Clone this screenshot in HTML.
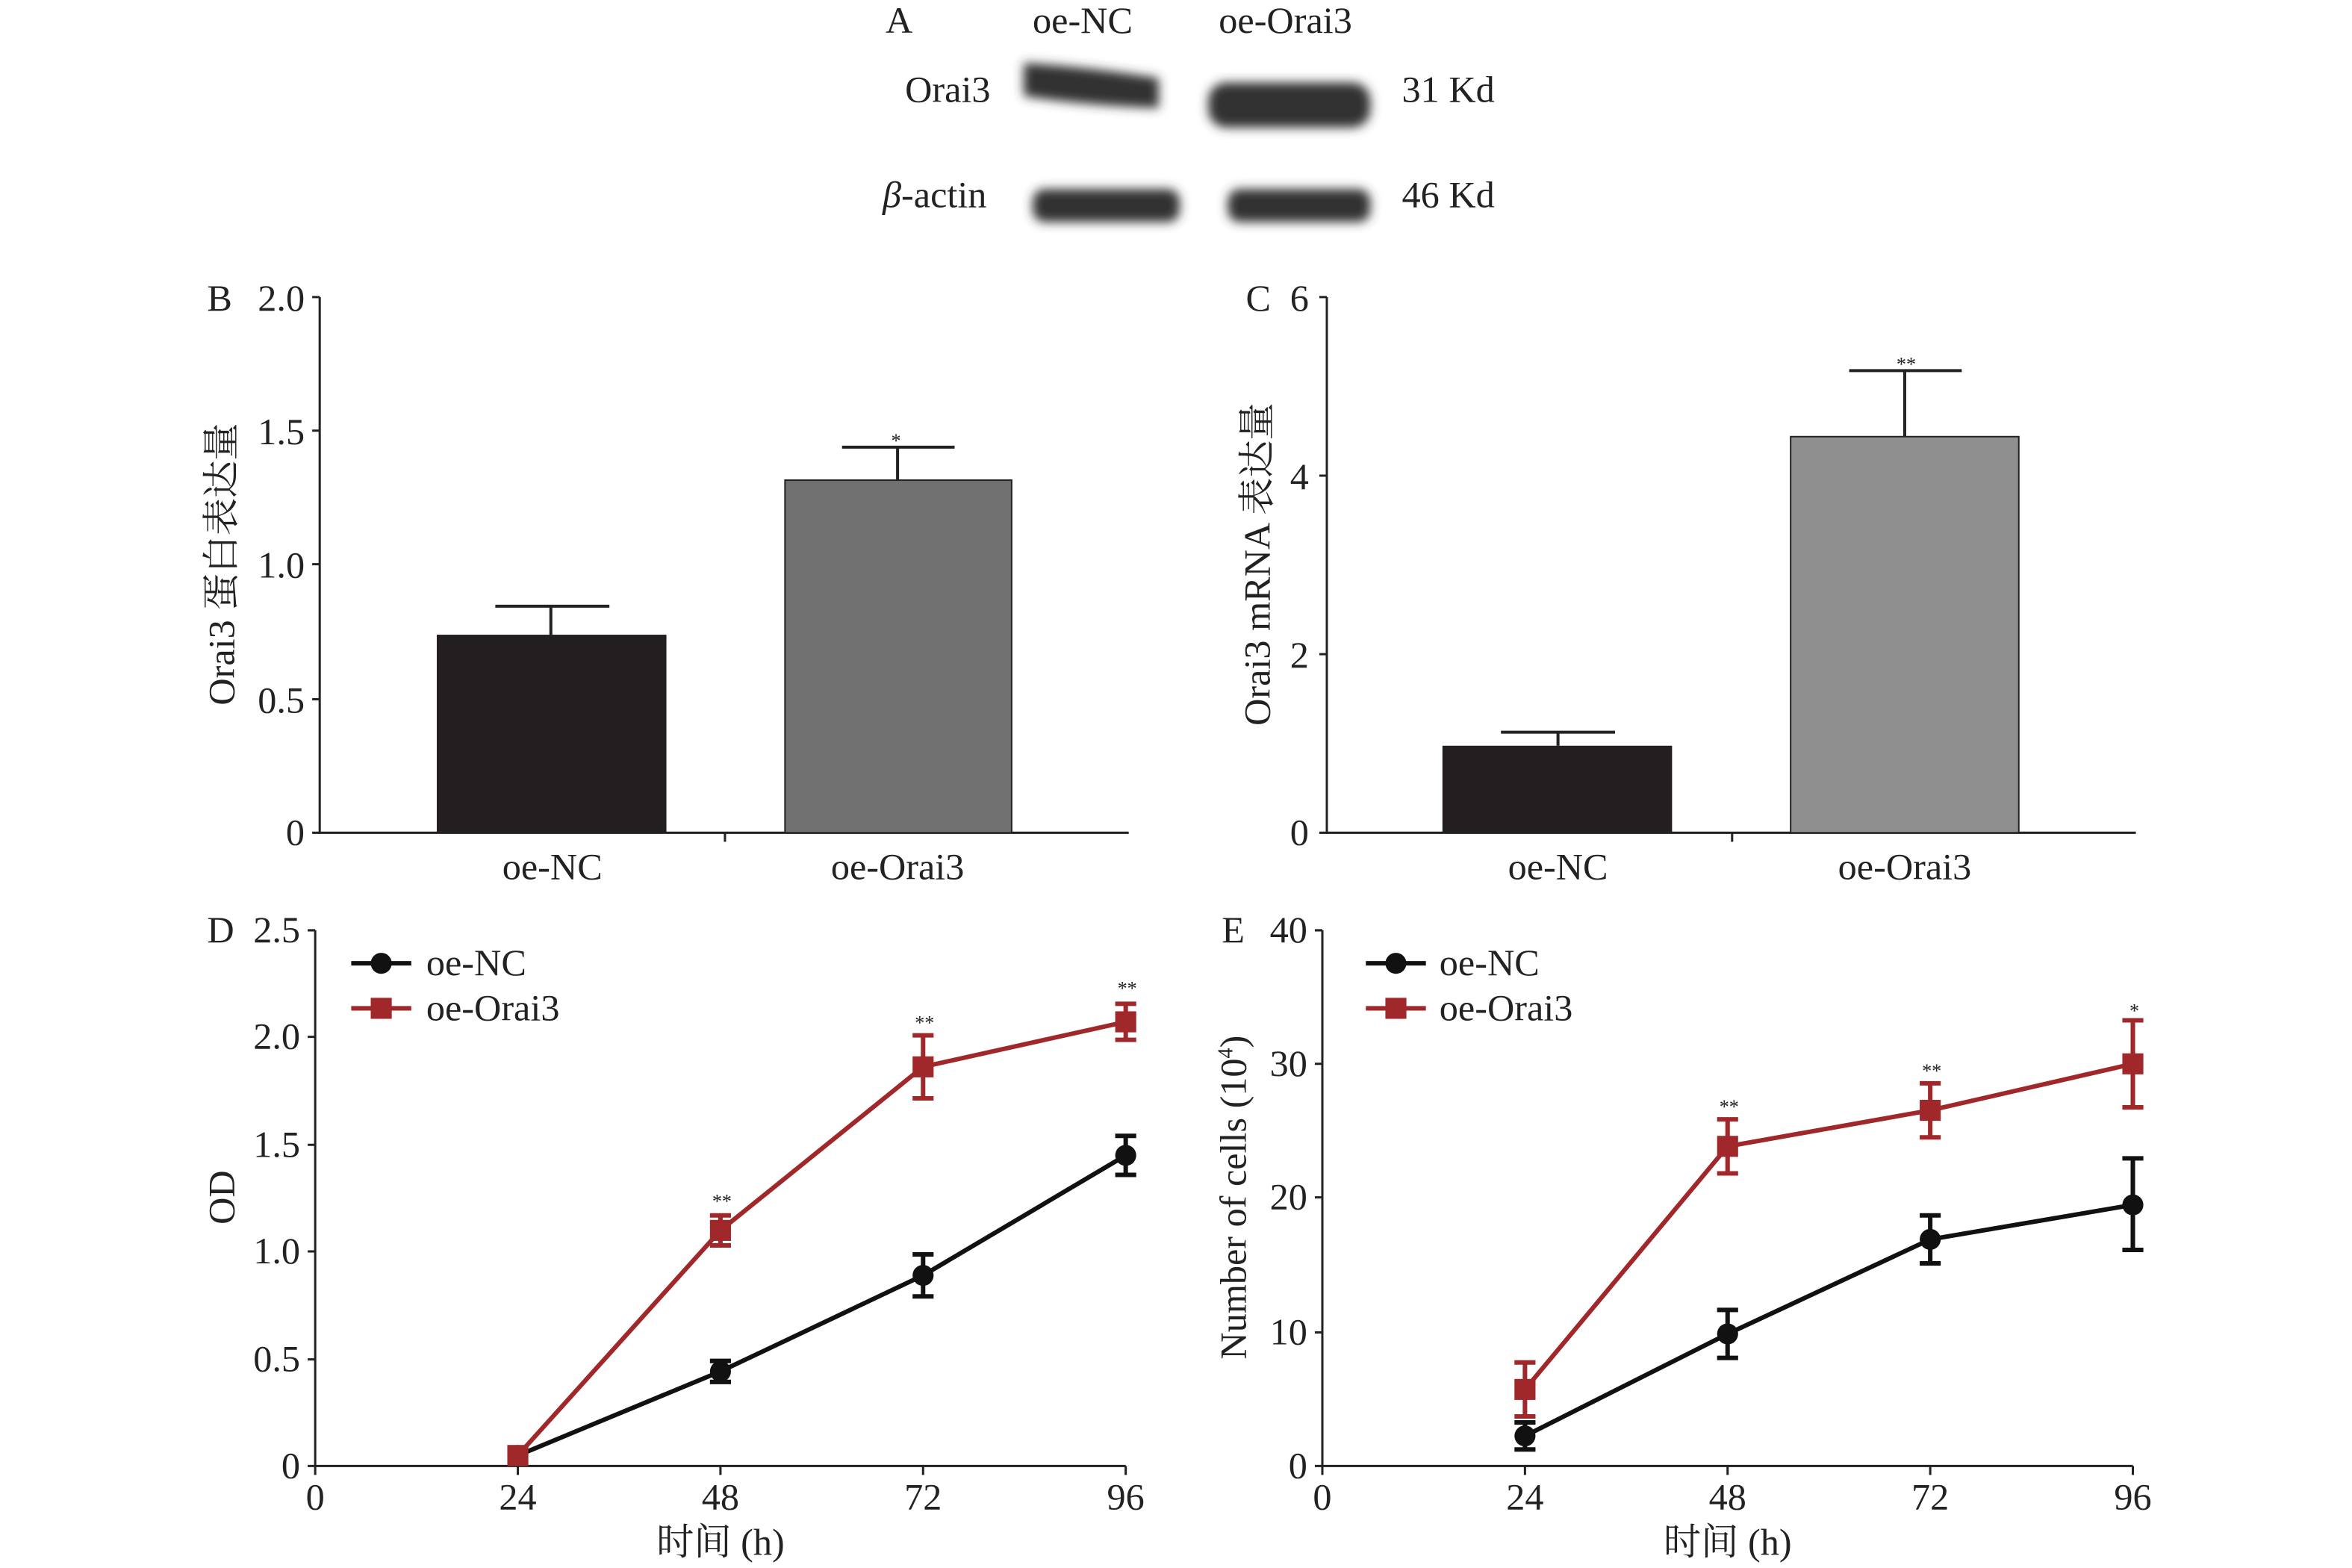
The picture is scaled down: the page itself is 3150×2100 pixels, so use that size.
<!DOCTYPE html>
<html><head><meta charset="utf-8"><style>html,body{margin:0;padding:0;background:#fff}svg{display:block}</style></head><body>
<svg width="3150" height="2100" viewBox="0 0 1567 1045" preserveAspectRatio="none" xmlns="http://www.w3.org/2000/svg" font-family="'Liberation Serif','Noto Serif CJK SC',serif" font-size="25" fill="#222">
<defs><filter id="bl"><feGaussianBlur stdDeviation="3.5"/></filter></defs>
<!-- Panel A -->
<text x="590" y="22">A</text>
<text x="688" y="22">oe-NC</text>
<text x="812" y="22">oe-Orai3</text>
<text x="603" y="68">Orai3</text>
<text x="588" y="138"><tspan font-style="italic">β</tspan>-actin</text>
<text x="934" y="68">31 Kd</text>
<text x="934" y="138">46 Kd</text>
<g fill="#333" filter="url(#bl)">
<path d="M682,42 Q720,44 772,52 L772,72 Q720,70 682,64 Z"/>
<rect x="805" y="55" width="108" height="30" rx="12"/>
<rect x="688" y="126" width="98" height="22" rx="8"/>
<rect x="818" y="126" width="95" height="22" rx="8"/>
</g>
<!-- Panel B -->
<g stroke="#222" stroke-width="1.5" fill="none">
<path d="M213,198 V555 H752 M483,555 v6"/>
<path d="M213,198 h-5 M213,287 h-5 M213,376 h-5 M213,466 h-5 M213,555 h-5"/>
</g>
<text x="138" y="207">B</text>
<g text-anchor="end"><text x="203" y="207">2.0</text><text x="203" y="296">1.5</text><text x="203" y="385">1.0</text><text x="203" y="475">0.5</text><text x="203" y="563">0</text></g>
<rect x="291" y="423" width="153" height="132" fill="#231f20"/>
<rect x="523" y="320" width="151" height="235" fill="#717171" stroke="#222"/>
<g stroke="#222" stroke-width="2"><path d="M367,423 V404 M330,404 H406 M598,320 V298 M561,298 H636"/></g>
<text x="597" y="298" font-size="13" text-anchor="middle">*</text>
<text x="368" y="586" text-anchor="middle">oe-NC</text>
<text x="598" y="586" text-anchor="middle">oe-Orai3</text>
<text transform="translate(156,376) rotate(-90)" text-anchor="middle">Orai3 蛋白表达量</text>
<!-- Panel C -->
<g stroke="#222" stroke-width="1.5" fill="none">
<path d="M884,198 V555 H1423 M1154,555 v6"/>
<path d="M884,198 h-5 M884,317 h-5 M884,436 h-5 M884,555 h-5"/>
</g>
<text x="830" y="207">C</text>
<g text-anchor="end"><text x="872" y="207">6</text><text x="872" y="326">4</text><text x="872" y="445">2</text><text x="872" y="563">0</text></g>
<rect x="961" y="497" width="153" height="58" fill="#231f20"/>
<rect x="1193" y="291" width="152" height="264" fill="#8f8f8f" stroke="#222"/>
<g stroke="#222" stroke-width="2"><path d="M1038,497 V488 M1000,488 H1076 M1269,291 V247 M1232,247 H1307"/></g>
<text x="1270" y="247" font-size="13" text-anchor="middle">**</text>
<text x="1038" y="586" text-anchor="middle">oe-NC</text>
<text x="1269" y="586" text-anchor="middle">oe-Orai3</text>
<text transform="translate(846,376) rotate(-90)" text-anchor="middle">Orai3 mRNA 表达量</text>
<!-- Panel D -->
<g stroke="#222" stroke-width="1.5" fill="none">
<path d="M210,620 V977 H750"/>
<path d="M210,620 h-5 M210,691 h-5 M210,763 h-5 M210,834 h-5 M210,906 h-5 M210,977 h-5"/>
<path d="M210,977 v6 M345,977 v6 M480,977 v6 M615,977 v6 M750,977 v6"/>
</g>
<text x="138" y="628">D</text>
<g text-anchor="end"><text x="200" y="628">2.5</text><text x="200" y="699">2.0</text><text x="200" y="771">1.5</text><text x="200" y="842">1.0</text><text x="200" y="914">0.5</text><text x="200" y="985">0</text></g>
<g text-anchor="middle"><text x="210" y="1006">0</text><text x="345" y="1006">24</text><text x="480" y="1006">48</text><text x="615" y="1006">72</text><text x="750" y="1006">96</text>
<text x="480" y="1036">时间 (h)</text></g>
<text transform="translate(156,798) rotate(-90)" text-anchor="middle">OD</text>
<g stroke="#111" stroke-width="3" fill="none">
<path d="M345,970 L480,914 L615,850 L750,770"/>
<path d="M480,907v14M473,907h14M473,921h14 M615,836v28M608,836h14M608,864h14 M750,757v26M743,757h14M743,783h14"/>
</g>
<g fill="#111"><circle cx="345" cy="970" r="7"/><circle cx="480" cy="914" r="7"/><circle cx="615" cy="850" r="7"/><circle cx="750" cy="770" r="7"/></g>
<g stroke="#a0282b" stroke-width="3" fill="none">
<path d="M345,970 L480,820 L615,711 L750,681"/>
<path d="M480,810v20M473,810h14M473,830h14 M615,690v42M608,690h14M608,732h14 M750,669v24M743,669h14M743,693h14"/>
</g>
<g fill="#a0282b"><rect x="338" y="963" width="14" height="14"/><rect x="473" y="813" width="14" height="14"/><rect x="608" y="704" width="14" height="14"/><rect x="743" y="674" width="14" height="14"/></g>
<g font-size="13" text-anchor="middle"><text x="481" y="805">**</text><text x="616" y="686">**</text><text x="751" y="663">**</text></g>
<path d="M234,642 h40" stroke="#111" stroke-width="3"/><circle cx="254" cy="642" r="7" fill="#111"/>
<path d="M234,672 h40" stroke="#a0282b" stroke-width="3"/><rect x="247" y="665" width="14" height="14" fill="#a0282b"/>
<text x="284" y="650">oe-NC</text><text x="284" y="680">oe-Orai3</text>
<!-- Panel E -->
<g stroke="#222" stroke-width="1.5" fill="none">
<path d="M881,620 V977 H1421"/>
<path d="M881,620 h-5 M881,709 h-5 M881,798 h-5 M881,888 h-5 M881,977 h-5"/>
<path d="M881,977 v6 M1016,977 v6 M1151,977 v6 M1286,977 v6 M1421,977 v6"/>
</g>
<text x="814" y="628">E</text>
<g text-anchor="end"><text x="871" y="628">40</text><text x="871" y="717">30</text><text x="871" y="806">20</text><text x="871" y="896">10</text><text x="871" y="985">0</text></g>
<g text-anchor="middle"><text x="881" y="1006">0</text><text x="1016" y="1006">24</text><text x="1151" y="1006">48</text><text x="1286" y="1006">72</text><text x="1421" y="1006">96</text>
<text x="1151" y="1036">时间 (h)</text></g>
<text transform="translate(830,798) rotate(-90)" text-anchor="middle">Number of cells (10<tspan font-size="14" dy="-9">4</tspan><tspan dy="9">)</tspan></text>
<g stroke="#111" stroke-width="3" fill="none">
<path d="M1016,957 L1151,889 L1286,826 L1421,803"/>
<path d="M1016,948v18M1009,948h14M1009,966h14 M1151,873v32M1144,873h14M1144,905h14 M1286,810v32M1279,810h14M1279,842h14 M1421,772v61M1414,772h14M1414,833h14"/>
</g>
<g fill="#111"><circle cx="1016" cy="957" r="7"/><circle cx="1151" cy="889" r="7"/><circle cx="1286" cy="826" r="7"/><circle cx="1421" cy="803" r="7"/></g>
<g stroke="#a0282b" stroke-width="3" fill="none">
<path d="M1016,926 L1151,764 L1286,740 L1421,709"/>
<path d="M1016,908v36M1009,908h14M1009,944h14 M1151,746v36M1144,746h14M1144,782h14 M1286,722v36M1279,722h14M1279,758h14 M1421,680v58M1414,680h14M1414,738h14"/>
</g>
<g fill="#a0282b"><rect x="1009" y="919" width="14" height="14"/><rect x="1144" y="757" width="14" height="14"/><rect x="1279" y="733" width="14" height="14"/><rect x="1414" y="702" width="14" height="14"/></g>
<g font-size="13" text-anchor="middle"><text x="1152" y="742">**</text><text x="1287" y="718">**</text><text x="1422" y="678">*</text></g>
<path d="M910,642 h40" stroke="#111" stroke-width="3"/><circle cx="930" cy="642" r="7" fill="#111"/>
<path d="M910,672 h40" stroke="#a0282b" stroke-width="3"/><rect x="923" y="665" width="14" height="14" fill="#a0282b"/>
<text x="959" y="650">oe-NC</text><text x="959" y="680">oe-Orai3</text>
</svg>
</body></html>
